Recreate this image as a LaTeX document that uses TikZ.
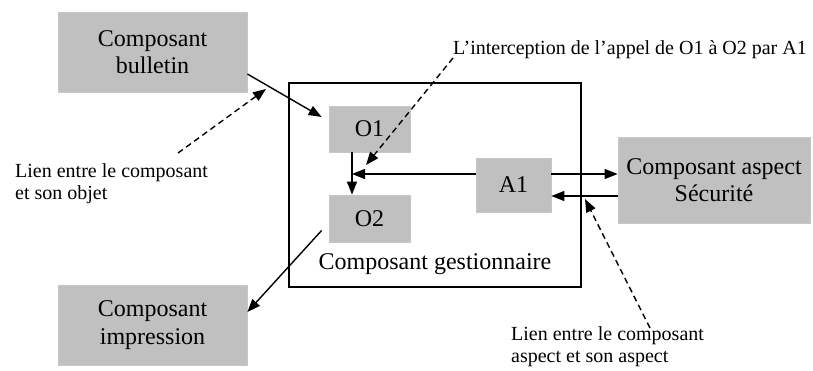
\documentclass[tikz,border=0pt]{standalone}
\usepackage{fontspec}
\setmainfont{Liberation Serif}
\usetikzlibrary{arrows.meta,calc}
\definecolor{boxgray}{RGB}{192,192,192}
\tikzset{
  comp/.style={rectangle, fill=boxgray, draw=black!22, line width=0.8pt, inner sep=0pt,
    align=center, font=\fontsize{24}{27.5}\selectfont},
  note/.style={inner sep=0pt, align=left, font=\fontsize{20}{22}\selectfont},
  link/.style={line width=1.4pt, -{Triangle[length=13pt,width=10pt]}},
  dlink/.style={link, dash pattern=on 6pt off 4pt}
}
\begin{document}
\begin{tikzpicture}[x=1pt, y=-1pt]
			%%%%% START %%%%%
			\useasboundingbox (0, 0) rectangle (813, 370);
			
			% le composant gestionnaire
			\draw[line width=1.8pt] (289, 83) rectangle (581, 287);
			\node[font=\fontsize{24}{27.5}\selectfont] (gest) at (435, 264) {Composant gestionnaire};
			
			\node[comp, minimum width=81pt, minimum height=46pt] (O1) at (369.5, 129) {O1};
			\node[comp, minimum width=81pt, minimum height=47pt] (O2) at (369.5, 218.5) {O2};
			\node[comp, minimum width=75pt, minimum height=54pt] (A1) at (513.5, 185) {A1};
			
			% les composants autour
			\node[comp, minimum width=189pt, minimum height=80pt] (bulletin) at (152.5, 52) {Composant\\bulletin};
			\node[comp, minimum width=189pt, minimum height=80pt] (impression) at (152.5, 325) {Composant\\impression};
			\node[comp, minimum width=192pt, minimum height=86pt] (secu) at (714, 180) {Composant aspect\\Sécurité};
			
			% les textes
			\node[note, anchor=north west] (lienobjet) at (15, 163) {Lien entre le composant\\et son objet};
			\node[note, anchor=north west] (interception) at (453, 40) {L’interception de l’appel de O1 à O2 par A1};
			\node[note, anchor=north west] (lienaspect) at (511, 326) {Lien entre le composant\\aspect et son aspect};
			
			% les appels
			\draw[link] ([yshift=-22pt]bulletin.east) -- ([xshift=-7pt, yshift=12pt]O1.west);
			\draw[link] ([xshift=-7pt, yshift=-12pt]O2.west) -- ([yshift=13pt]impression.east);
			\coordinate (o1o2) at ([xshift=-17.5pt]O1.south);
			\draw[link] (o1o2) -- ([xshift=-17.5pt]O2.north);
			\coordinate (a1top) at ([yshift=11pt]A1.west);
			\draw[link] (a1top) -- (a1top -| o1o2);
			\coordinate (a1out) at ([yshift=11pt]A1.east);
			\draw[link] (a1out) -- (a1out -| secu.west);
			\coordinate (a1in) at ([yshift=-11pt]A1.east);
			\draw[link] (a1in -| secu.west) -- (a1in);
			
			% les liens en pointilles
			\coordinate (objetfrom) at (178, 153);
			\coordinate (objetto) at (266, 89);
			\draw[dlink] (objetfrom) -- (objetto);
			\coordinate (intfrom) at (453, 58);
			\coordinate (intto) at (366, 165);
			\draw[dlink] (intfrom) -- (intto);
			\coordinate (aspfrom) at (650, 328);
			\coordinate (aspto) at (585, 199);
			\draw[dlink] (aspfrom) -- (aspto);
			
			%%%%% END %%%%%
\end{tikzpicture}
\end{document}
